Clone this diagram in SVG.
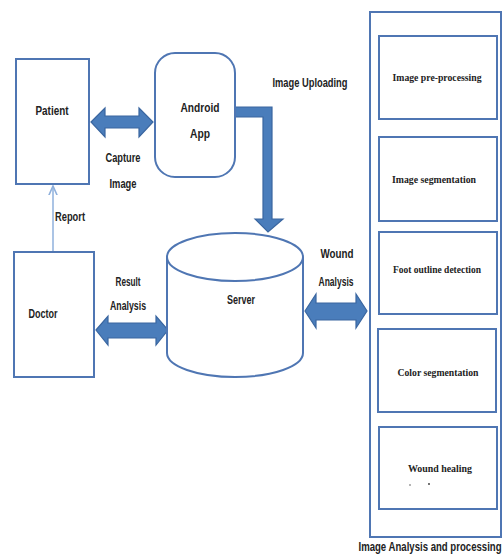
<svg xmlns="http://www.w3.org/2000/svg" width="503" height="559" viewBox="0 0 503 559">
<style>
.box{fill:#fff;stroke:#4f76b3;stroke-width:2}
.arr{fill:#4a7dbb;stroke:#3a66a0;stroke-width:1.2}
.t{font-family:"Liberation Sans",Arial,sans-serif;font-weight:bold;font-size:12px;fill:#222;text-anchor:middle}
.s{font-family:"Liberation Serif","Times New Roman",serif;font-weight:bold;font-size:10.5px;fill:#222;text-anchor:middle}
</style>
<defs>
<marker id="thin" viewBox="0 0 10 10" refX="9" refY="5" markerWidth="7" markerHeight="7" orient="auto">
<path d="M0,1 L9,5 L0,9" fill="none" stroke="#8fb0dc" stroke-width="1.5"/>
</marker>
</defs>
<rect width="503" height="559" fill="#fff"/>
<g id="connectors">
<line x1="53" y1="252" x2="53" y2="186" stroke="#8fb0dc" stroke-width="1.5" marker-end="url(#thin)"/>
<path class="arr" d="M91,122 L105,108 L105,116 L139,116 L139,108 L153,122 L139,137 L139,128 L105,128 L105,137 Z"/>
<path class="arr" d="M96,330 L108,316 L108,323 L156,323 L156,316 L168,330 L156,345 L156,338 L108,338 L108,345 Z"/>
<path class="arr" d="M305,311 L316,294 L316,303 L356,303 L356,294 L367,311 L356,328 L356,320 L316,320 L316,328 Z"/>
<path class="arr" d="M235,107 L272,107 L272,219 L283,219 L268,232 L255,219 L263,219 L263,117 L235,117 Z"/>
</g>
<g id="patient">
<rect class="box" x="16" y="59" width="73" height="125"/>
<text class="t" x="52" y="115" textLength="33" lengthAdjust="spacingAndGlyphs">Patient</text>
</g>
<g id="android">
<rect class="box" x="155" y="53" width="80" height="124" rx="20"/>
<text class="t" x="200" y="112" textLength="39" lengthAdjust="spacingAndGlyphs">Android</text>
<text class="t" x="200" y="138" textLength="20" lengthAdjust="spacingAndGlyphs">App</text>
</g>
<g id="doctor">
<rect class="box" x="14" y="252" width="80" height="125"/>
<text class="t" x="43" y="318" textLength="29" lengthAdjust="spacingAndGlyphs">Doctor</text>
</g>
<g id="server">
<path class="box" d="M167,257 L167,353 A68,24 0 0 0 303,353 L303,257"/>
<ellipse class="box" cx="235" cy="257" rx="68" ry="24"/>
<text class="t" x="241" y="304" textLength="28" lengthAdjust="spacingAndGlyphs">Server</text>
</g>
<g id="labels">
<text class="t" x="310" y="87" textLength="75" lengthAdjust="spacingAndGlyphs">Image Uploading</text>
<text class="t" x="123" y="162" textLength="35" lengthAdjust="spacingAndGlyphs">Capture</text>
<text class="t" x="123" y="188" textLength="27" lengthAdjust="spacingAndGlyphs">Image</text>
<text class="t" x="70" y="221" textLength="30" lengthAdjust="spacingAndGlyphs">Report</text>
<text class="t" x="128" y="286" textLength="25" lengthAdjust="spacingAndGlyphs">Result</text>
<text class="t" x="128" y="310" textLength="36" lengthAdjust="spacingAndGlyphs">Analysis</text>
<text class="t" x="337" y="258" textLength="33" lengthAdjust="spacingAndGlyphs">Wound</text>
<text class="t" x="336" y="286" textLength="35" lengthAdjust="spacingAndGlyphs">Analysis</text>
</g>
<g id="processing">
<rect class="box" x="370" y="12" width="131" height="525" stroke-width="1.5"/>
<g transform="translate(430,551) scale(0.8,1)">
<text class="t" x="0" y="0" font-size="10.5">Image Analysis and processing</text>
</g>
</g>
<g id="preprocessing">
<rect class="box" x="379" y="36" width="118" height="83"/>
<text class="s" x="437" y="81" textLength="89" lengthAdjust="spacingAndGlyphs">Image pre-processing</text>
</g>
<g id="segmentation">
<rect class="box" x="379" y="137" width="118" height="84"/>
<text class="s" x="434" y="183" textLength="84" lengthAdjust="spacingAndGlyphs">Image segmentation</text>
</g>
<g id="foot">
<rect class="box" x="379" y="232" width="118" height="82"/>
<text class="s" x="437" y="273" textLength="88" lengthAdjust="spacingAndGlyphs">Foot outline detection</text>
</g>
<g id="color">
<rect class="box" x="378" y="329" width="118" height="83"/>
<text class="s" x="438" y="376" textLength="81" lengthAdjust="spacingAndGlyphs">Color segmentation</text>
</g>
<g id="healing">
<rect class="box" x="379" y="427" width="118" height="82"/>
<text class="s" x="440" y="472" textLength="64" lengthAdjust="spacingAndGlyphs">Wound healing</text>
<circle cx="410" cy="485" r="0.7" fill="#333"/>
<circle cx="429" cy="484" r="0.9" fill="#333"/>
</g>
</svg>
